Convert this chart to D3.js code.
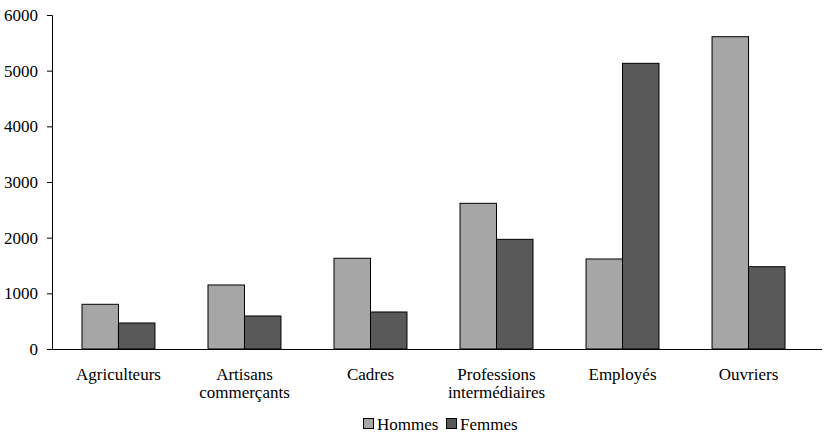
<!DOCTYPE html>
<html><head><meta charset="utf-8">
<script src="https://cdn.jsdelivr.net/npm/d3@7/dist/d3.min.js"></script>
<style>body{margin:0;background:#fff}svg{display:block}</style>
</head><body>
<script>
const categories = ["Agriculteurs", "Artisans\ncommerçants", "Cadres", "Professions\nintermédiaires", "Employés", "Ouvriers"];
const series = ["Hommes", "Femmes"];
const hommes = [803, 1150, 1630, 2617, 1617, 5610];
const femmes = [467, 593, 665, 1970, 5132, 1478];
const yTicks = [0, 1000, 2000, 3000, 4000, 5000, 6000];
const colors = ["#a6a6a6", "#595959"];

const FONT = "'Liberation Serif'";
const FS = "17px";
const W = 824, H = 435;
const m = {left: 52, top: 15, bottom: 349, right: 815};
const svg = d3.select("body").append("svg").attr("width", W).attr("height", H);

const x = d3.scaleBand().domain(categories).range([m.left, m.right]).paddingInner(0.421).paddingOuter(0.238);
const xs = d3.scaleBand().domain(series).range([0, x.bandwidth()]);
const y = d3.scaleLinear().domain([0, 6000]).range([m.bottom, m.top]);

const yAxis = svg.append("g").attr("transform", `translate(${m.left},0)`)
  .call(d3.axisLeft(y).tickValues(yTicks).tickSize(5).tickPadding(9).tickFormat(d3.format("d")));
yAxis.selectAll("text").attr("fill", "#000").style("font-family", FONT).style("font-size", FS);
yAxis.selectAll("line,path").attr("stroke", "#000");

const data = categories.map((c, i) => ({c, vals: [hommes[i], femmes[i]]}));
const g = svg.selectAll("g.grp").data(data).enter().append("g").attr("class", "grp")
  .attr("transform", d => `translate(${x(d.c)},0)`);
g.selectAll("rect").data(d => d.vals.map((v, j) => ({s: series[j], v, j}))).enter().append("rect")
  .attr("x", d => xs(d.s)).attr("width", xs.bandwidth())
  .attr("y", d => y(d.v)).attr("height", d => y(0) - y(d.v))
  .attr("fill", d => colors[d.j]).attr("stroke", "#000").attr("stroke-width", 1);

svg.append("line").attr("x1", m.left).attr("x2", 822).attr("y1", y(0) + 0.5).attr("y2", y(0) + 0.5)
  .attr("stroke", "#000").attr("stroke-width", 1.2);

categories.forEach(c => {
  const cx = x(c) + x.bandwidth() / 2;
  c.split("\n").forEach((l, i) => {
    svg.append("text").attr("x", cx).attr("y", 379.5 + i * 18.3)
      .attr("text-anchor", "middle").style("font-family", FONT).style("font-size", FS)
      .attr("fill", "#000").text(l);
  });
});

const leg = svg.append("g");
const legX = [363, 446];
series.forEach((s, i) => {
  leg.append("rect").attr("x", legX[i] + 0.5).attr("y", 418.5).attr("width", 10).attr("height", 10)
    .attr("fill", colors[i]).attr("stroke", "#000").attr("stroke-width", 1);
  leg.append("text").attr("x", legX[i] + 14).attr("y", 429.5).style("font-family", FONT)
    .style("font-size", FS).attr("fill", "#000").text(s);
});
</script>
</body></html>
